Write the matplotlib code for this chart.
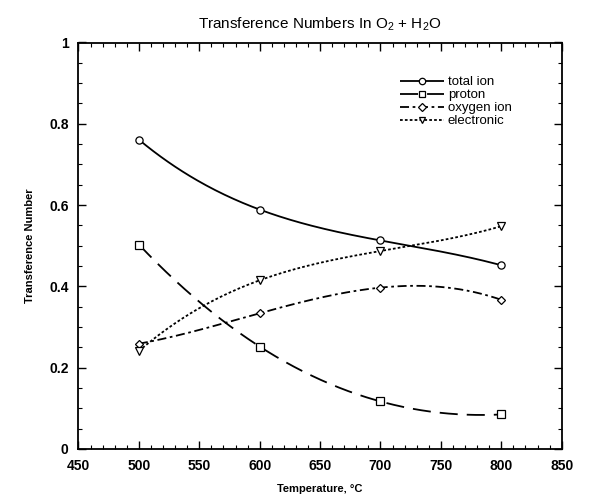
import matplotlib
matplotlib.use('Agg')
import matplotlib.pyplot as plt
import numpy as np
from matplotlib.ticker import MultipleLocator, FormatStrFormatter

plt.rcParams['font.family'] = ['Liberation Sans', 'DejaVu Sans']
plt.rcParams['mathtext.fontset'] = 'custom'
plt.rcParams['mathtext.rm'] = 'Liberation Sans'
plt.rcParams['mathtext.it'] = 'Liberation Sans'

# temperatures (deg C) and transference numbers
temperature = [500, 600, 700, 800]
total_ion = [0.761, 0.589, 0.513, 0.452]
proton = [0.503, 0.252, 0.117, 0.085]
oxygen_ion = [0.259, 0.334, 0.397, 0.367]
electronic = [0.241, 0.415, 0.487, 0.548]

series = [
    ('total ion', total_ion, 'o', (0, ())),
    ('proton', proton, 's', (0, (10, 5))),
    ('oxygen ion', oxygen_ion, 'D', (0, (5, 2, 1.5, 2))),
    ('electronic', electronic, 'v', (0, (1.5, 1.2))),
]

fig = plt.figure(figsize=(5.9, 5.0), dpi=100)
ax = fig.add_axes([0.133, 0.102, 0.819, 0.813])

# smooth curve drawn through the measured points (cubic through 4 points)
xs = np.linspace(temperature[0], temperature[-1], 200)
for name, vals, mk, ls in series:
    coef = np.polyfit(temperature, vals, 3)
    ax.plot(xs, np.polyval(coef, xs), color='black', lw=1.3, linestyle=ls)
    msize = 4.0 if mk == 'D' else 5.2
    ax.plot(temperature, vals, linestyle='none', marker=mk, markersize=msize,
            markerfacecolor='white', markeredgecolor='black', markeredgewidth=0.9)

# legend handles: line with marker in the middle
handles = []
for name, vals, mk, ls in series:
    msize = 3.6 if mk == 'D' else 4.6
    h, = ax.plot([], [], color='black', lw=1.3, linestyle=ls, marker=mk,
                 markersize=msize, markerfacecolor='white',
                 markeredgecolor='black', markeredgewidth=0.9)
    handles.append(h)
leg = ax.legend(handles, [s[0] for s in series], loc='upper left',
                bbox_to_anchor=(0.655, 0.93), frameon=False, fontsize=9.5,
                handlelength=3.3, handletextpad=0.3, labelspacing=0.05,
                borderaxespad=0, numpoints=1)

ax.set_xlim(450, 850)
ax.set_ylim(0, 1)
ax.xaxis.set_major_locator(MultipleLocator(50))
ax.xaxis.set_minor_locator(MultipleLocator(10))
ax.yaxis.set_major_locator(MultipleLocator(0.2))
ax.yaxis.set_minor_locator(MultipleLocator(0.05))
ax.yaxis.set_major_formatter(FormatStrFormatter('%g'))
ax.tick_params(which='both', direction='in', top=True, right=True)
ax.tick_params(which='major', length=6, width=1, pad=7)
ax.tick_params(which='minor', length=3, width=0.8)
for lab in ax.get_xticklabels() + ax.get_yticklabels():
    lab.set_fontweight('bold')
    lab.set_fontsize(10)
for sp in ax.spines.values():
    sp.set_linewidth(1.3)

ax.set_title(r'Transference Numbers In O$_2$ + H$_2$O', fontsize=11, pad=10)
ax.set_xlabel('Temperature, \u00b0C', fontsize=8, fontweight='bold', labelpad=8)
ax.set_ylabel('Transference Number', fontsize=8, fontweight='bold', labelpad=10)

fig.savefig('out.png', dpi=100)
